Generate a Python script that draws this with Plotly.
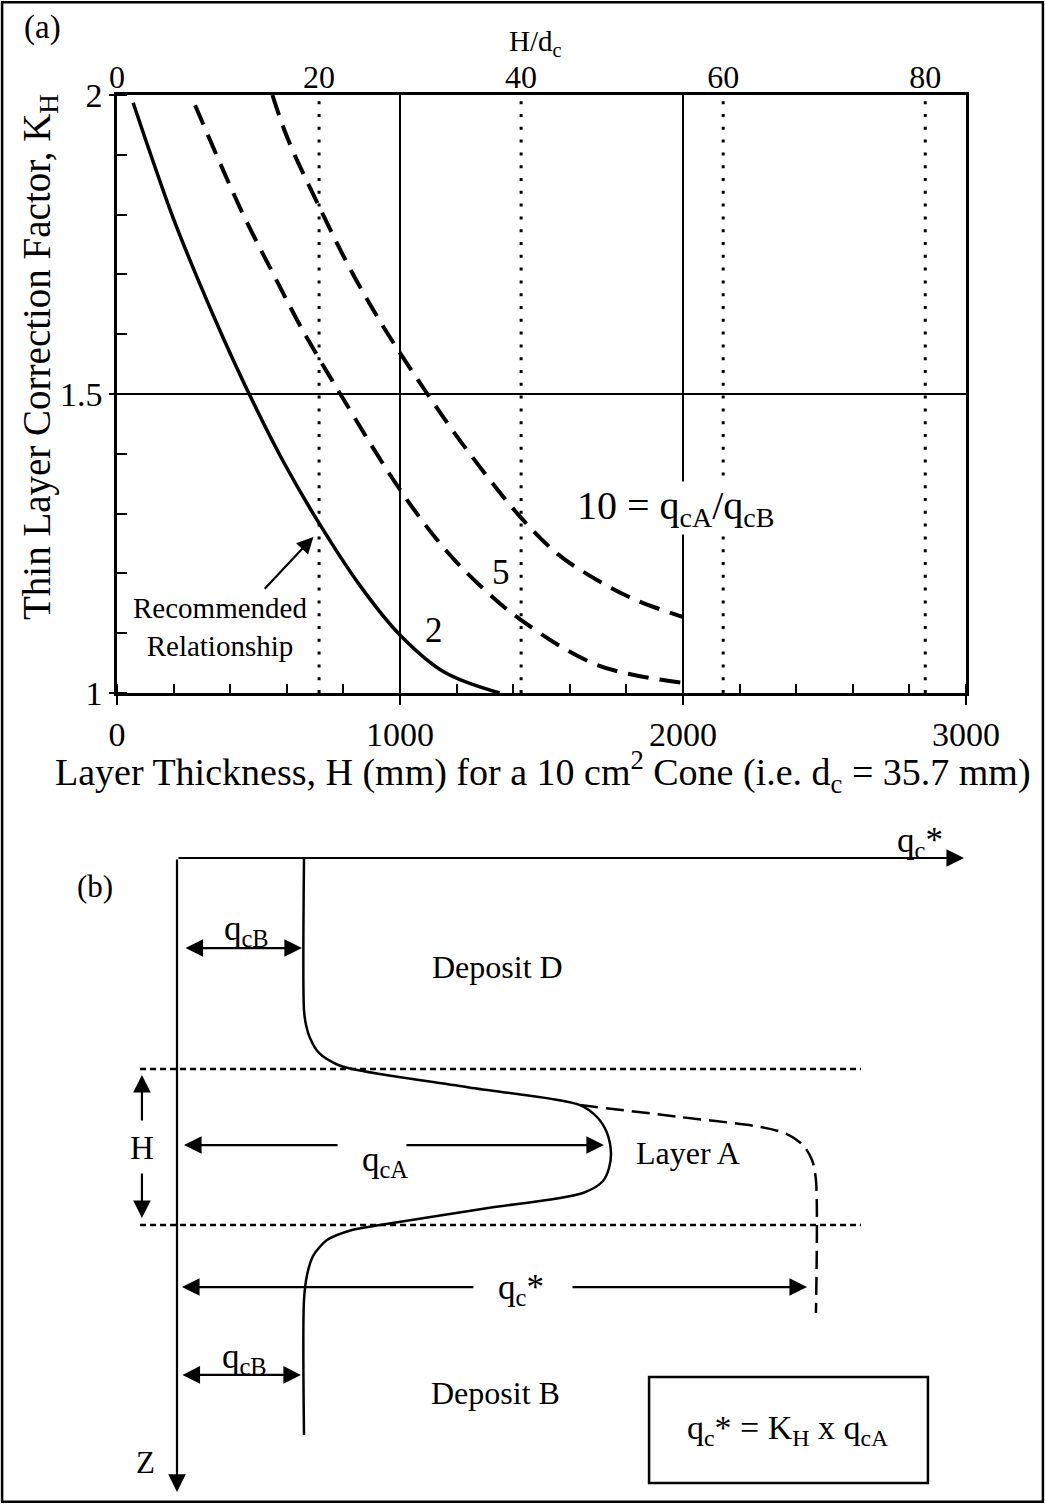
import plotly.graph_objects as go

# ---------------- (a) thin layer correction factor ----------------
h_rec = [57, 194, 283, 375, 467, 590, 714, 858, 1000, 1156, 1352]
k_rec = [1.987, 1.80, 1.695, 1.594, 1.5, 1.385, 1.284, 1.18, 1.097, 1.035, 1.0]

h_q5 = [276, 443, 551, 650, 789, 1000, 1156, 1291, 1428, 1696, 2000]
k_q5 = [1.983, 1.803, 1.702, 1.612, 1.5, 1.34, 1.242, 1.176, 1.122, 1.047, 1.017]

h_q10 = [549, 605, 725, 832, 955, 1097, 1223, 1428, 1561, 1696, 1831, 2000]
k_q10 = [2.0, 1.925, 1.803, 1.702, 1.602, 1.5, 1.415, 1.293, 1.231, 1.189, 1.156, 1.127]

dc_mm = 35.7
hdc_lines = [20, 40, 60, 80]
top_ticks = [0, 20, 40, 60, 80]
x_ticks = [0, 1000, 2000, 3000]
y_ticks = [1, 1.5, 2]
y_ticktext = ["1", "1.5", "2"]

# ---------------- (b) schematic cone profile ----------------
# qc in units of qcB, depth z in units of layer thickness H
prof_qc = [1.0, 1.0, 1.016, 1.047, 1.118, 1.252, 1.378, 2.3, 3.173, 3.307, 3.386, 3.417,
           3.402, 3.354, 3.197, 2.4, 1.598, 1.378, 1.181, 1.071, 1.024, 1.0, 1.0]
prof_z = [0, 0.981, 1.077, 1.161, 1.258, 1.329, 1.361, 1.481, 1.594, 1.671, 1.774, 1.903,
          2.0, 2.084, 2.161, 2.264, 2.368, 2.4, 2.465, 2.568, 2.69, 2.852, 3.723]
star_qc = [3.173, 3.961, 4.591, 4.803, 4.929, 5.0, 5.031, 5.031]
star_z = [1.594, 1.671, 1.735, 1.781, 1.852, 1.948, 2.077, 2.935]
layer_z = [1.361, 2.368]
layer_x = [-0.291, 5.386]

FONT = "Liberation Serif"
BLACK = "black"

fig = go.Figure()

# dotted H/dc lines (on the top axis)
dx, dy = [], []
for v in hdc_lines:
    dx += [v, v, None]
    dy += [1, 2, None]
fig.add_trace(go.Scatter(x=dx, y=dy, xaxis="x2", yaxis="y", mode="lines",
                         line=dict(color=BLACK, width=3, dash="3px,9.8px"),
                         hoverinfo="skip"))

fig.add_trace(go.Scatter(x=h_rec, y=k_rec, mode="lines", line=dict(color=BLACK, width=3.5, shape="spline")))
fig.add_trace(go.Scatter(x=h_q5, y=k_q5, mode="lines",
                         line=dict(color=BLACK, width=4, shape="spline", dash="21px,11px")))
fig.add_trace(go.Scatter(x=h_q10, y=k_q10, mode="lines",
                         line=dict(color=BLACK, width=4, shape="spline", dash="21px,11px")))

# schematic
fig.add_trace(go.Scatter(x=prof_qc, y=prof_z, xaxis="x3", yaxis="y3", mode="lines",
                         line=dict(color=BLACK, width=2.5, shape="spline", smoothing=0.8)))
fig.add_trace(go.Scatter(x=star_qc, y=star_z, xaxis="x3", yaxis="y3", mode="lines",
                         line=dict(color=BLACK, width=2.5, shape="spline", smoothing=0.8, dash="18px,8px")))
for zl in layer_z:
    fig.add_trace(go.Scatter(x=layer_x, y=[zl, zl], xaxis="x3", yaxis="y3", mode="lines",
                             line=dict(color=BLACK, width=2.5, dash="6px,4px")))

W, H = 1045, 1504
x_dom = [117 / W, 966 / W]
y_dom = [1 - 693 / H, 1 - 95 / H]

axis_common = dict(showline=True, linecolor=BLACK, linewidth=2.5, color=BLACK, automargin=False,
                   tickfont=dict(family=FONT, size=34, color=BLACK), zeroline=False)

fig.update_layout(
    template="none",
    width=W, height=H, autosize=False,
    margin=dict(l=0, r=0, t=0, b=0, pad=0, autoexpand=False),
    paper_bgcolor="white", plot_bgcolor="rgba(0,0,0,0)",
    showlegend=False,
    font=dict(family=FONT, color=BLACK),
    xaxis=dict(domain=x_dom, range=[0, 3000], anchor="y", mirror=True,
               tickvals=x_ticks, ticks="outside", ticklen=9, tickwidth=2, tickcolor=BLACK,
               showgrid=True, gridcolor=BLACK, gridwidth=2,
               minor=dict(tick0=0, dtick=200, ticks="inside", ticklen=9, tickwidth=1.5, tickcolor=BLACK,
                          showgrid=False),
               **axis_common),
    yaxis=dict(domain=y_dom, range=[1, 2], anchor="x", mirror=True,
               tickvals=y_ticks, ticktext=y_ticktext, ticks="outside", ticklen=5, tickwidth=2,
               tickcolor=BLACK, showgrid=True, gridcolor=BLACK, gridwidth=2,
               minor=dict(tick0=1, dtick=0.1, ticks="inside", ticklen=10, tickwidth=1.5, tickcolor=BLACK,
                          showgrid=False),
               **axis_common),
    xaxis2=dict(overlaying="x", side="top", anchor="y", range=[0, 3000 / dc_mm], automargin=False,
                tickvals=top_ticks, ticks="", showline=False, showgrid=False, zeroline=False,
                tickfont=dict(family=FONT, size=32, color=BLACK)),
    xaxis3=dict(domain=[0, 1], range=[-177 / 127, 868 / 127], visible=False, anchor="y3",
                automargin=False),
    yaxis3=dict(domain=[0, 0.47], range=[(1504 - 858) / 155, (797.12 - 858) / 155],
                visible=False, anchor="x3", automargin=False),
)

C = dict(xanchor="center", yanchor="middle")
ann = []
# titles (a)
ann.append(dict(xref="paper", yref="paper", x=42 / W, y=1 - 28 / H, text="(a)", showarrow=False,
                font=dict(size=33), **C))
ann.append(dict(xref="paper", yref="paper", x=535 / W, y=1 - 43 / H, text="H/d<sub>c</sub>",
                showarrow=False, font=dict(size=29), **C))
ann.append(dict(xref="paper", yref="paper", x=40 / W, y=1 - 357 / H, textangle=-90,
                text="Thin Layer Correction Factor, K<sub>H</sub>", showarrow=False, font=dict(size=39), **C))
ann.append(dict(xref="paper", yref="paper", x=543 / W, y=1 - 772 / H,
                text="Layer Thickness, H (mm) for a 10 cm<sup>2</sup> Cone (i.e. d<sub>c</sub> = 35.7 mm)",
                showarrow=False, font=dict(size=38), **C))
# curve labels
ann.append(dict(x=1975, y=1.31, text="10 = q<sub>cA</sub>/q<sub>cB</sub>", showarrow=False,
                bgcolor="white", font=dict(size=40), **C))
ann.append(dict(x=1356, y=1.202, text="5", showarrow=False, font=dict(size=35), **C))
ann.append(dict(x=1119, y=1.105, text="2", showarrow=False, font=dict(size=35), **C))
ann.append(dict(x=365, y=1.11, text="Recommended<br>Relationship", showarrow=False,
                font=dict(size=29), **C))
ann.append(dict(x=694, y=1.261, ax=517, ay=1.172, axref="x", ayref="y", text="", showarrow=True,
                arrowhead=2, arrowsize=1.5, arrowwidth=2.2, arrowcolor=BLACK))

# schematic arrows
def arrow(hx, hy, tx, ty, both=False):
    d = dict(xref="x3", yref="y3", axref="x3", ayref="y3", x=hx, y=hy, ax=tx, ay=ty, text="",
             showarrow=True, arrowhead=2, arrowsize=1.6, arrowwidth=2.2, arrowcolor=BLACK, standoff=0)
    if both:
        d.update(arrowside="end+start", startarrowhead=2, startarrowsize=1.6, startstandoff=0)
    return d

ann += [
    arrow(6.197, 0, 0, 0),            # qc* axis
    arrow(0, 4.09, 0, 0),             # z axis
    arrow(0.984, 0.581, 0.055, 0.581, both=True),
    arrow(-0.276, 1.40, -0.276, 1.703),
    arrow(-0.276, 2.323, -0.276, 2.026),
    arrow(0.055, 1.852, 1.276, 1.852),
    arrow(3.362, 1.852, 1.795, 1.852),
    arrow(0.039, 2.768, 2.346, 2.768),
    arrow(4.961, 2.768, 3.102, 2.768),
    arrow(0.976, 3.335, 0.031, 3.335, both=True),
]

def label(x, y, t, size=31):
    return dict(xref="x3", yref="y3", x=x, y=y, text=t, showarrow=False, font=dict(size=size), **C)

ann += [
    label(-0.646, 0.187, "(b)", 31),
    label(0.551, 0.465, "q<sub>cB</sub>", 35),
    label(2.52, 0.703, "Deposit D", 32),
    label(-0.276, 1.871, "H", 33),
    label(1.638, 1.961, "q<sub>cA</sub>", 35),
    label(4.024, 1.903, "Layer A", 32),
    label(2.709, 2.787, "q<sub>c</sub>*", 35),
    label(0.535, 3.226, "q<sub>cB</sub>", 35),
    label(2.504, 3.452, "Deposit B", 32),
    label(-0.252, 3.897, "Z", 31),
    label(5.85, -0.097, "q<sub>c</sub>*", 35),
    label(4.811, 3.69, "q<sub>c</sub>* = K<sub>H</sub> x q<sub>cA</sub>", 34),
]
fig.update_layout(annotations=ann)

fig.add_shape(type="rect", xref="x3", yref="y3", x0=3.717, x1=5.913, y0=3.348, y1=4.032,
              line=dict(color=BLACK, width=2.5))
fig.add_shape(type="rect", xref="paper", yref="paper", x0=0.002, x1=0.998, y0=0.0015, y1=0.9985,
              line=dict(color=BLACK, width=2.5))

fig.write_html("out.html")
